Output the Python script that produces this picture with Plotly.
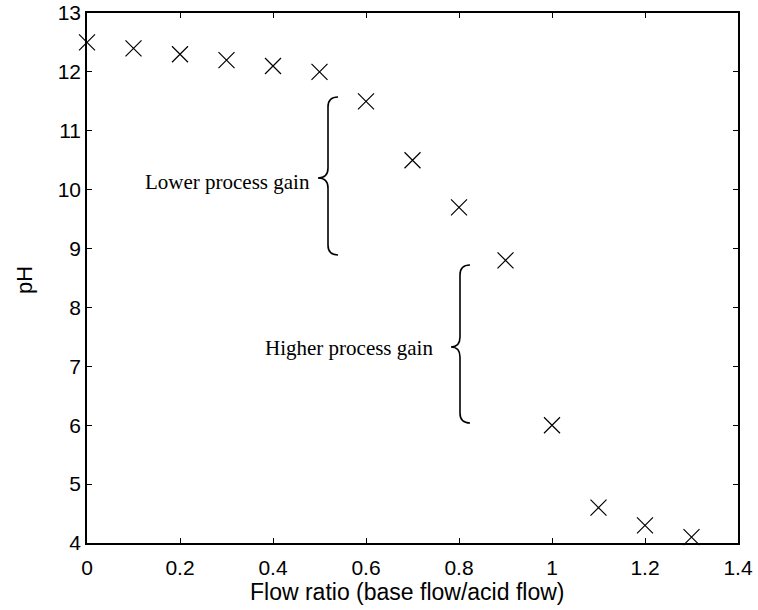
import plotly.graph_objects as go

# Data
flow_ratio = [0.0, 0.1, 0.2, 0.3, 0.4, 0.5, 0.6, 0.7, 0.8, 0.9, 1.0, 1.1, 1.2, 1.3]
ph_values = [12.5, 12.4, 12.3, 12.2, 12.1, 12.0, 11.5, 10.5, 9.7, 8.8, 6.0, 4.6, 4.3, 4.1]
x_ticks = [0, 0.2, 0.4, 0.6, 0.8, 1.0, 1.2, 1.4]
x_tick_labels = ["0", "0.2", "0.4", "0.6", "0.8", "1", "1.2", "1.4"]
y_ticks = [4, 5, 6, 7, 8, 9, 10, 11, 12, 13]
labels = ["Lower process gain", "Higher process gain"]
x_title = "Flow ratio (base flow/acid flow)"
y_title = "pH"

# page body margin removed (post_script); plot area in page pixels: x 87..738, y 13..543
OFF = 0
W, H = 758, 610
PX0, PX1, PY0, PY1 = 87, 738, 13, 543
L, T = PX0 - OFF, PY0 - OFF
R, B = W - (PX1 - OFF), H - (PY1 - OFF)
XR = (0, 1.4)
YR = (4, 13)

def px_x(p):
    return XR[0] + (p - PX0) / (PX1 - PX0) * (XR[1] - XR[0])

def px_y(p):
    return YR[1] - (p - PY0) / (PY1 - PY0) * (YR[1] - YR[0])

def paper_x(p):
    return (p - PX0) / (PX1 - PX0)

def paper_y(p):
    return (PY1 - p) / (PY1 - PY0)

def brace(xe, xv, xt, yt, ym, yb, r=10):
    pts = [
        ("M", [(xe, yt)]),
        ("Q", [(xv, yt), (xv, yt + r)]),
        ("L", [(xv, ym - r)]),
        ("Q", [(xv, ym), (xt, ym)]),
        ("Q", [(xv, ym), (xv, ym + r)]),
        ("L", [(xv, yb - r)]),
        ("Q", [(xv, yb), (xe, yb)]),
    ]
    s = ""
    for cmd, ps in pts:
        s += cmd + " " + " ".join(f"{px_x(a):.5f},{px_y(b):.5f}" for a, b in ps) + " "
    return s.strip()

fig = go.Figure()
fig.add_trace(go.Scatter(
    x=flow_ratio, y=ph_values, mode="markers",
    marker=dict(symbol="x-thin-open", size=16, color="black",
                line=dict(color="black", width=1.2)),
    showlegend=False, cliponaxis=False,
))

fig.add_shape(type="path", xref="x", yref="y",
              path=brace(338, 328, 318, 97, 178, 255),
              line=dict(color="black", width=1.6))
fig.add_shape(type="path", xref="x", yref="y",
              path=brace(470, 460, 451, 265, 347, 423),
              line=dict(color="black", width=1.6))

fig.add_annotation(x=px_x(312), y=px_y(182), text=labels[0], showarrow=False,
                   xanchor="right", yanchor="middle",
                   font=dict(family="Liberation Serif", size=21, color="black"))
fig.add_annotation(x=px_x(435), y=px_y(348), text=labels[1], showarrow=False,
                   xanchor="right", yanchor="middle",
                   font=dict(family="Liberation Serif", size=21, color="black"))

# axis titles
fig.add_annotation(xref="paper", yref="paper", x=paper_x(407), y=paper_y(592),
                   text=x_title, showarrow=False, xanchor="center", yanchor="middle",
                   font=dict(family="Liberation Sans", size=23, color="black"))
fig.add_annotation(xref="paper", yref="paper", x=paper_x(24), y=paper_y(280),
                   text=y_title, showarrow=False, xanchor="center", yanchor="middle",
                   textangle=-90,
                   font=dict(family="Liberation Sans", size=22, color="black"))

axis_common = dict(
    showgrid=False, zeroline=False, showline=True, linecolor="black", linewidth=1.5,
    mirror="ticks", ticks="inside", ticklen=5, tickwidth=1, tickcolor="black",
    tickfont=dict(family="Liberation Sans", size=21, color="black"),
    automargin=False, ticklabeloverflow="allow",
)
fig.update_xaxes(range=list(XR), tickvals=x_ticks, ticktext=x_tick_labels,
                 ticklabelstandoff=5, **axis_common)
fig.update_yaxes(range=list(YR), tickvals=y_ticks, **axis_common)

fig.update_layout(width=W, height=H, margin=dict(l=L, r=R, t=T, b=B, autoexpand=False),
                  plot_bgcolor="white", paper_bgcolor="white")

fig.write_html("out.html", config={"displayModeBar": False},
               post_script="document.body.style.margin='0';document.body.style.padding='0';")
